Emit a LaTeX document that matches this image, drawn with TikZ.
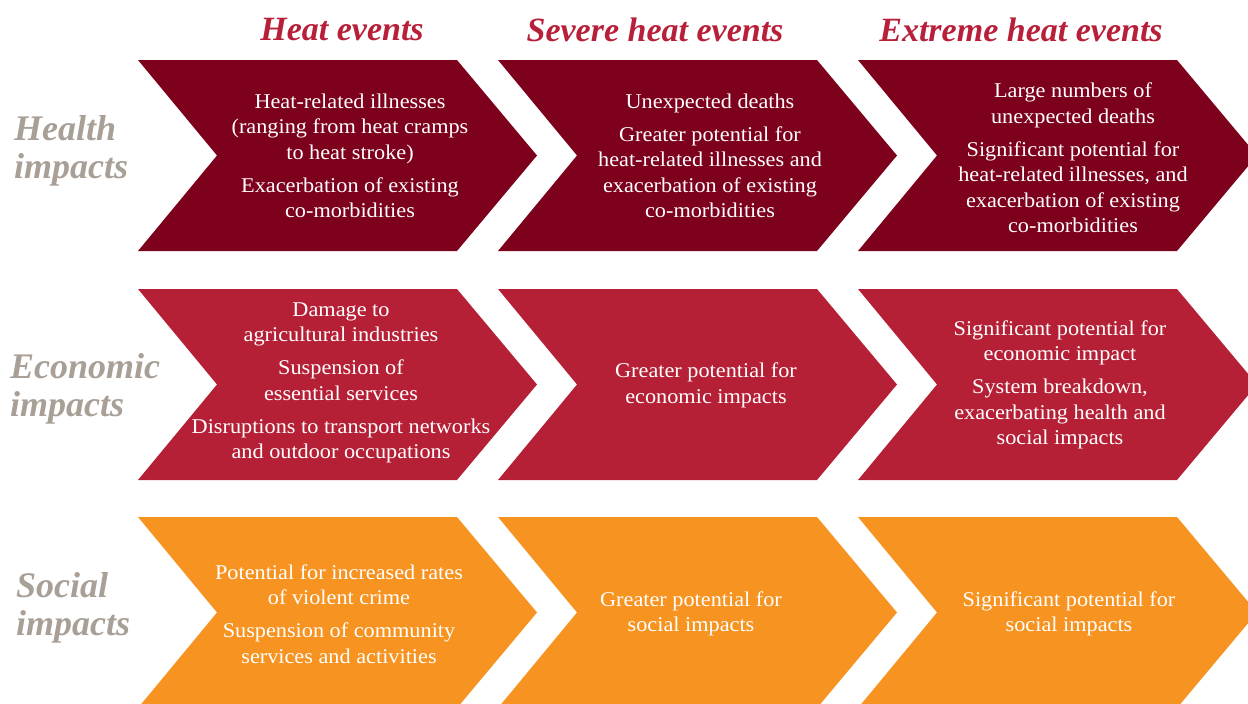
\documentclass[tikz,border=0pt]{standalone}
\usepackage{fontspec}
\setmainfont{Liberation Serif}
\newfontfamily\bodyfont[FakeStretch=1.06]{Liberation Serif}
\usepackage{tikz}

\definecolor{healthred}{RGB}{125,0,28}
\definecolor{econred}{RGB}{182,32,54}
\definecolor{socialorange}{RGB}{247,147,32}
\definecolor{headred}{RGB}{184,32,58}
\definecolor{labelgray}{RGB}{168,159,150}

% chevron: left x, top y, colour
\newcommand{\chev}[3]{%
  \fill[#3] (#1,#2) -- ++(319,0) -- ++(80,95.5) -- ++(-80,95.5) -- ++(-319,0) -- ++(79,-95.5) -- cycle;}

\tikzset{
  bodytext/.style={text=white, align=center, inner sep=0pt, font=\bodyfont\fontsize{21}{25.5}\selectfont},
  headtext/.style={text=headred, inner sep=0pt, font=\fontsize{34}{40}\selectfont\bfseries\itshape},
  rowtext/.style={text=labelgray, align=left, anchor=west, inner sep=0pt, font=\fontsize{36}{37.5}\selectfont\bfseries\itshape}
}

\begin{document}
\begin{tikzpicture}[x=1pt,y=-1pt]
    \useasboundingbox (0,0) rectangle (1248,704);
    \clip (0,0) rectangle (1248,704);

    % column heads
    \node[headtext] (heat) at (342,30) {Heat events};
    \node[headtext] (severe) at (655,30) {Severe heat events};
    \node[headtext] (extreme) at (1021,30) {Extreme heat events};

    % row labels
    \node[rowtext] (health) at (14,151) {Health\\impacts};
    \node[rowtext] (econ) at (10,389) {Economic\\impacts};
    \node[rowtext] (social) at (16,608) {Social\\impacts};

    % chevrons
    \chev{138}{60}{healthred}
    \chev{498}{60}{healthred}
    \chev{858}{60}{healthred}
    \chev{138}{289}{econred}
    \chev{498}{289}{econred}
    \chev{858}{289}{econred}
    \chev{138}{517}{socialorange}
    \chev{498}{517}{socialorange}
    \chev{858}{517}{socialorange}

    % health
    \node[bodytext] (h1) at (350,156) {Heat-related illnesses\\(ranging from heat cramps\\to heat stroke)\\[7.5pt]Exacerbation of existing\\co-morbidities};
    \node[bodytext] (h2) at (710,156) {Unexpected deaths\\[7.5pt]Greater potential for\\heat-related illnesses and\\exacerbation of existing\\co-morbidities};
    \node[bodytext] (h3) at (1073,158) {Large numbers of\\unexpected deaths\\[7.5pt]Significant potential for\\heat-related illnesses, and\\exacerbation of existing\\co-morbidities};

    % economic
    \node[bodytext] (e1) at (341,383) {Damage to\\agricultural industries\\[7.5pt]Suspension of\\essential services\\[7.5pt]Disruptions to transport networks\\and outdoor occupations};
    \node[bodytext] (e2) at (706,385.5) {Greater potential for\\economic impacts};
    \node[bodytext] (e3) at (1060,385) {Significant potential for\\economic impact\\[7.5pt]System breakdown,\\exacerbating health and\\social impacts};

    % social
    \node[bodytext] (s1) at (339,614) {Potential for increased rates\\of violent crime\\[7.5pt]Suspension of community\\services and activities};
    \node[bodytext] (s2) at (691,614) {Greater potential for\\social impacts};
    \node[bodytext] (s3) at (1069,614) {Significant potential for\\social impacts};
\end{tikzpicture}
\end{document}
